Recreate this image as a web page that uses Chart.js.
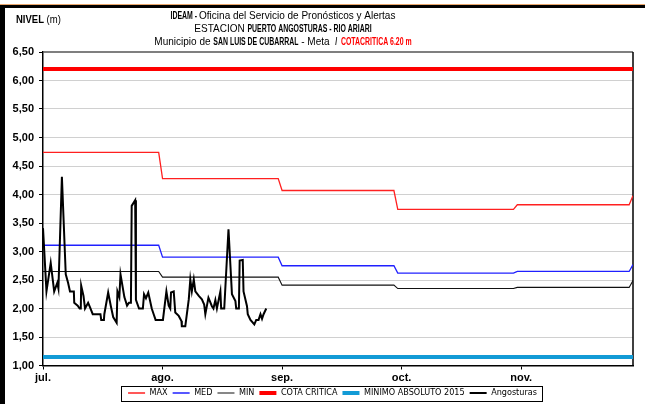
<!DOCTYPE html>
<html lang="es">
<head>
<meta charset="utf-8">
<title>Puerto Angosturas - Rio Ariari</title>
<script src="https://cdn.jsdelivr.net/npm/chart.js@4.4.1/dist/chart.umd.min.js"></script>
<style>
  html, body { margin: 0; padding: 0; background: #fff; }
  #wrap { position: relative; width: 645px; height: 404px; }
</style>
</head>
<body>
<div id="wrap"><canvas id="nivelChart"></canvas></div>
<script>
"use strict"

// eje x: dias contados desde el 1 de julio
const marcasDias = [0, 31, 62, 93, 124];
const meses = ['jul.', 'ago.', 'sep.', 'oct.', 'nov.'];

// valores mensuales (jul, ago, sep, oct, nov, dic)
const inicioMes = [0, 31, 62, 92, 123, 153];
const finMes = [30, 61, 91, 122, 152];
const nivelMax = [4.74, 4.28, 4.07, 3.74, 3.82, 3.98];
const nivelMed = [3.11, 2.90, 2.75, 2.62, 2.65, 2.77];
const nivelMin = [2.65, 2.55, 2.41, 2.35, 2.37, 2.49];

const cotaCritica = 6.20;
const minimoAbsoluto = 1.15;

// lecturas de la estacion Angosturas
const diasAngosturas = [
  0, 0.9, 2.0, 2.9, 3.7, 4.0, 4.9, 5.9, 6.5, 7.0,
  8.0, 8.1, 9.0, 9.5, 9.8, 9.9, 10.5, 10.9, 11.7, 12.2,
  12.9, 14.9, 15.1, 15.8, 15.9, 16.9, 17.6, 18.2, 19.1, 19.3,
  19.8, 20.1, 21.1, 21.8, 22.3, 22.8, 23.0, 23.9, 24.1, 24.9,
  25.9, 26.2, 26.7, 27.3, 28.2, 28.7, 29.2, 31.1, 32.0, 32.6,
  33.0, 33.2, 33.9, 34.3, 35.2, 35.9, 36.0, 36.9, 37.8, 38.2,
  38.6, 39.1, 39.5, 40.4, 41.2, 41.8, 42.1, 42.9, 43.8, 44.2,
  44.7, 45.1, 46.0, 46.2, 47.0, 48.1, 49.0, 49.9, 50.1, 50.8,
  51.0, 51.8, 52.0, 52.9, 53.1, 53.8, 54.8, 55.3, 55.9, 56.4,
  56.8, 57.2, 57.9
];
const nivelAngosturas = [
  3.41, 2.30, 2.80, 2.30, 2.45, 2.35, 4.31, 2.60, 2.45, 2.30,
  2.30, 2.10, 2.05, 2.00, 2.00, 2.40, 2.22, 2.00, 2.10, 2.02,
  1.90, 1.90, 1.80, 1.80, 1.90, 2.28, 2.04, 1.85, 1.75, 2.30,
  2.20, 2.60, 2.20, 2.05, 2.10, 2.10, 3.80, 3.90, 2.15, 2.00,
  2.00, 2.25, 2.18, 2.28, 2.00, 1.90, 1.80, 1.80, 2.30, 2.05,
  2.00, 2.28, 2.30, 1.93, 1.87, 1.78, 1.69, 1.69, 2.16, 2.51,
  2.30, 2.51, 2.30, 2.22, 2.16, 2.07, 1.90, 2.19, 2.04, 2.00,
  2.15, 2.00, 2.30, 2.00, 2.00, 3.39, 2.25, 2.13, 2.00, 2.00,
  2.84, 2.85, 2.30, 2.04, 1.90, 1.80, 1.72, 1.80, 1.80, 1.90,
  1.82, 1.90, 2.00
];

const FONT = "'Liberation Sans', Arial, sans-serif";
const NARROW = "'Liberation Sans Narrow', 'Arial Narrow', 'DejaVu Sans Condensed', sans-serif";

// escalones mensuales: un punto al inicio y otro al final de cada mes
function escalones(valores) {
  let pts = [];
  for (let i = 0; i < finMes.length; i++) {
    pts.push({x: inicioMes[i], y: valores[i]});
    pts.push({x: finMes[i], y: valores[i]});
  }
  pts.push({x: inicioMes[5], y: valores[5]});
  return pts;
}

function horizontal(valor) {
  return [{x: 0, y: valor}, {x: 153, y: valor}];
}

const angosturas = diasAngosturas.map((d, i) => ({x: d, y: nivelAngosturas[i]}));

// texto con partes en negrita / color, angostado como Arial Narrow
function textoMixto(ctx, partes, cx, y, size) {
  let total = 0;
  partes.forEach(p => {
    p.s = p.b ? 0.63 : 0.91;
    ctx.font = (p.b ? 'bold ' : '') + size + 'px ' + FONT;
    p.w = ctx.measureText(p.t).width * p.s;
    total += p.w;
  });
  let x = cx - total / 2;
  partes.forEach(p => {
    ctx.save();
    ctx.translate(x, y);
    ctx.scale(p.s, 1);
    ctx.textBaseline = 'middle';
    ctx.font = (p.b ? 'bold ' : '') + size + 'px ' + FONT;
    ctx.fillStyle = p.c || '#000';
    ctx.fillText(p.t, 0, 0);
    ctx.restore();
    x += p.w;
  });
}

// la leyenda de Excel queda un poco a la derecha
const MOVER_LEYENDA_X = 16;
const MOVER_LEYENDA_Y = -3;

const marco = {
  id: 'marco',
  afterLayout(chart) {
    const lg = chart.legend;
    lg.left += MOVER_LEYENDA_X;
    lg.right += MOVER_LEYENDA_X;
    lg.top += MOVER_LEYENDA_Y;
    lg.bottom += MOVER_LEYENDA_Y;
  },
  beforeDraw(chart) {
    const ctx = chart.ctx;
    ctx.save();
    ctx.fillStyle = '#fff';
    ctx.fillRect(0, 0, chart.width, chart.height);
    ctx.fillStyle = '#e9a66c';
    ctx.fillRect(0, 4, chart.width, 1);
    ctx.fillStyle = '#000';
    ctx.fillRect(0, 5, chart.width, 3);
    ctx.fillRect(0, 5, 5, chart.height);
    ctx.restore();
  },
  beforeDatasetsDraw(chart) {
    const ctx = chart.ctx;
    const a = chart.chartArea;
    ctx.save();
    ctx.strokeStyle = '#555';
    ctx.lineWidth = 1.5;
    ctx.beginPath();
    ctx.moveTo(a.left, a.top);
    ctx.lineTo(a.right, a.top);
    ctx.stroke();
    ctx.strokeStyle = '#000';
    ctx.beginPath();
    ctx.moveTo(a.right, a.top);
    ctx.lineTo(a.right, a.bottom);
    ctx.stroke();
    ctx.restore();
  },
  afterDraw(chart) {
    const ctx = chart.ctx;
    textoMixto(ctx, [{t: 'IDEAM - ', b: true}, {t: 'Oficina del Servicio de Pronósticos y Alertas'}], 283, 16, 11);
    textoMixto(ctx, [{t: 'ESTACION '}, {t: 'PUERTO ANGOSTURAS - RIO ARIARI', b: true}], 283, 29, 11);
    textoMixto(ctx, [{t: 'Municipio de '}, {t: 'SAN LUIS DE CUBARRAL', b: true}, {t: ' - Meta  '},
      {t: '/  ', b: true}, {t: 'COTACRITICA 6.20 m', b: true, c: '#ff0000'}], 283, 42, 11);

    ctx.save();
    ctx.textBaseline = 'middle';
    ctx.translate(16, 20);
    ctx.scale(0.95, 1);
    ctx.font = 'bold 10px ' + FONT;
    ctx.fillStyle = '#000';
    ctx.fillText('NIVEL', 0, 0);
    let w = ctx.measureText('NIVEL ').width;
    ctx.font = '10px ' + FONT;
    ctx.fillText('(m)', w, 0);
    ctx.restore();

    // recuadro de la leyenda
    const cajas = chart.legend.legendHitBoxes;
    if (cajas && cajas.length) {
      let izq = Math.min(...cajas.map(c => c.left)) - 7;
      let der = Math.max(...cajas.map(c => c.left + c.width)) + 5;
      let arr = Math.min(...cajas.map(c => c.top)) - 3;
      let abj = Math.max(...cajas.map(c => c.top + c.height)) + 3;
      ctx.save();
      ctx.strokeStyle = '#000';
      ctx.lineWidth = 1;
      ctx.strokeRect(Math.round(izq) + 0.5, Math.round(arr) + 0.5, Math.round(der - izq), Math.round(abj - arr));
      ctx.restore();
    }
  }
};

const data = {
  datasets: [
    { label: 'MAX', data: escalones(nivelMax), borderColor: '#ff2020', borderWidth: 1.3 },
    { label: 'MED', data: escalones(nivelMed), borderColor: '#2020ff', borderWidth: 1.3 },
    { label: 'MIN', data: escalones(nivelMin), borderColor: '#111', borderWidth: 1.1 },
    { label: 'COTA CRITICA', data: horizontal(cotaCritica), borderColor: '#ff0000', borderWidth: 4 },
    { label: 'MINIMO ABSOLUTO 2015', data: horizontal(minimoAbsoluto), borderColor: '#129bd6', borderWidth: 4 },
    { label: 'Angosturas', data: angosturas, borderColor: '#000', borderWidth: 2, order: -1 },
  ]
};

let theChart = new Chart(document.getElementById('nivelChart'), {
  type: 'line',
  data: data,
  plugins: [marco],
  options: {
    responsive: true,
    maintainAspectRatio: false,
    animation: false,
    devicePixelRatio: 1,
    layout: { padding: { top: 52, right: 12, left: 0, bottom: -6.5 } },
    elements: {
      point: { radius: 0 },
      line: { tension: 0, fill: false }
    },
    scales: {
      x: {
        type: 'linear',
        min: 0,
        max: 153,
        afterBuildTicks: s => { s.ticks = marcasDias.map(v => ({value: v})); },
        afterFit: s => { s.height = 21; },
        grid: { drawOnChartArea: false, drawTicks: true, tickLength: 4, tickColor: '#000' },
        border: { color: '#000', width: 1.5 },
        ticks: {
          autoSkip: false,
          maxRotation: 0,
          padding: 2,
          color: '#000',
          font: { family: FONT, size: 11, weight: 'bold' },
          callback: (v, i) => meses[i]
        }
      },
      y: {
        min: 1,
        max: 6.5,
        afterFit: s => { s.width = 43; },
        grid: {
          color: c => (c.tick && (c.tick.value === 6.5 || c.tick.value === 1)) ? 'rgba(0,0,0,0)' : '#a0a0a0',
          tickColor: '#000',
          tickLength: 4,
          lineWidth: 1
        },
        border: { color: '#000', width: 1.5, dash: [1, 1] },
        ticks: {
          stepSize: 0.5,
          padding: 5,
          color: '#000',
          font: { family: FONT, size: 11, weight: 'bold' },
          callback: v => v.toFixed(2).replace('.', ',')
        }
      }
    },
    plugins: {
      title: { display: false },
      tooltip: { enabled: false },
      legend: {
        position: 'bottom',
        labels: {
          usePointStyle: true,
          pointStyle: 'line',
          pointStyleWidth: 17,
          boxHeight: 9,
          padding: 5,
          color: '#000',
          font: { family: NARROW, size: 9 },
          sort: (a, b) => a.datasetIndex - b.datasetIndex
        }
      }
    }
  }
});
</script>
</body>
</html>
